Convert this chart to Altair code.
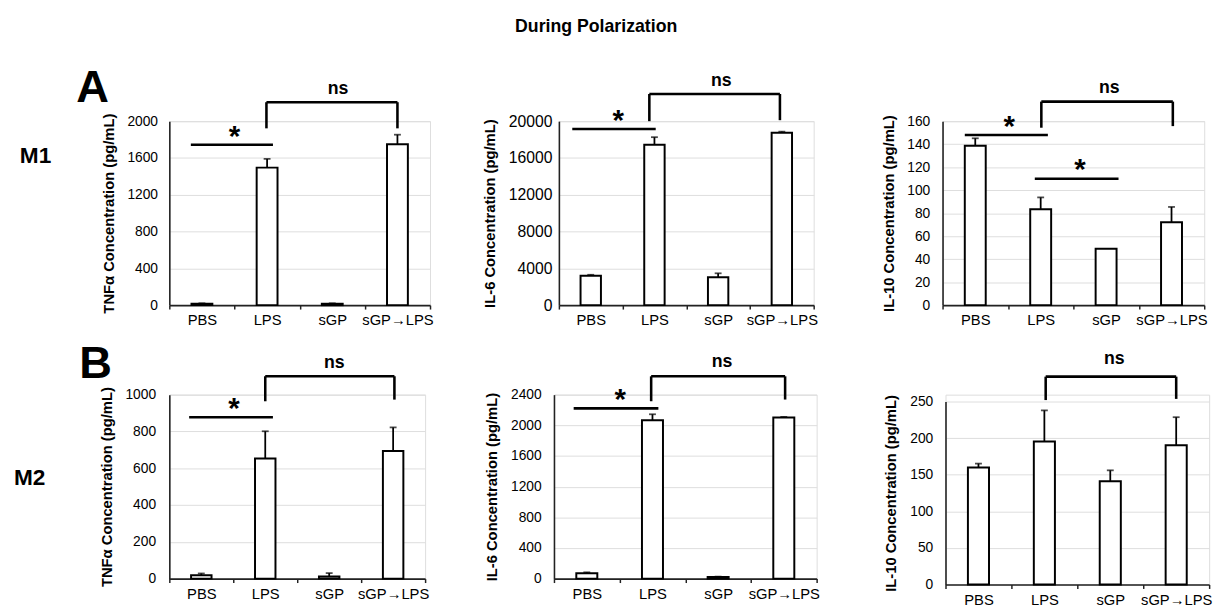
import altair as alt
import pandas as pd

categories = ["PBS", "LPS", "sGP", "sGP→LPS"]

# M1 row (A)
tnf_m1 = [15, 1495, 15, 1750]
tnf_m1_err = [5, 95, 5, 103]
il6_m1 = [3200, 17440, 3030, 18750]
il6_m1_err = [100, 820, 430, 110]
il10_m1 = [138.6, 83.4, 49.1, 72.0]
il10_m1_err = [6.5, 10.3, 0, 13.4]

# M2 row (B)
tnf_m2 = [18, 653, 12, 694]
tnf_m2_err = [10, 148, 18, 128]
il6_m2 = [70, 2067, 21, 2101]
il6_m2_err = [12, 77, 5, 9]
il10_m2 = [159.8, 195.5, 141.0, 190.2]
il10_m2_err = [5.4, 42.4, 15.0, 38.4]

# significance annotations (x in category units 0..4, y in data units)
sig_tnf_m1 = [(0.33, 1.59, 1744)]
star_tnf_m1 = [(1.0, 1893)]
brk_tnf_m1 = (1.49, 3.5, 2206, 1922, 1922)
ns_tnf_m1 = (2.59, 2349)

sig_il6_m1 = [(0.21, 1.52, 19146)]
star_il6_m1 = [(0.93, 20640)]
brk_il6_m1 = (1.42, 3.47, 22954, 20000, 20107)
ns_il6_m1 = (2.55, 24377)

sig_il10_m1 = [(0.34, 1.61, 148), (1.41, 2.69, 110)]
star_il10_m1 = [(1.02, 160), (2.10, 122.3)]
brk_il10_m1 = (1.51, 3.52, 177, 154.3, 155.7)
ns_il10_m1 = (2.55, 188.6)

sig_tnf_m2 = [(0.31, 1.62, 877)]
star_tnf_m2 = [(1.01, 952)]
brk_tnf_m2 = (1.50, 3.52, 1100, 964, 973)
ns_tnf_m2 = (2.58, 1174)

sig_il6_m2 = [(0.30, 1.59, 2221)]
star_il6_m2 = [(1.01, 2400)]
brk_il6_m2 = (1.48, 3.52, 2639, 2314, 2336)
ns_il6_m2 = (2.56, 2819)

sig_il10_m2 = []
star_il10_m2 = []
brk_il10_m2 = (1.52, 3.50, 284, 252, 253.6)
ns_il10_m2 = (2.56, 308)

FONT = "Liberation Sans"


def panel(vals, errs, ymax, ystep, ytitle, width, height, sig, stars, brk, ns,
          labels=None, top_pad=0, ylab_size=14, ylab_pad=12):
    df = pd.DataFrame({"cat": categories, "val": vals, "err": errs})
    df["top"] = df["val"] + df["err"]
    if top_pad:
        yscale = alt.Scale(domain=[0, ymax], nice=False, zero=True,
                           range=[height, top_pad])
    else:
        yscale = alt.Scale(domain=[0, ymax], nice=False, zero=True)
    ticks = list(range(0, int(ymax) + 1, ystep))
    yaxis = alt.Axis(title=ytitle, values=ticks, format="d", ticks=False,
                     labelPadding=ylab_pad, labelFontSize=ylab_size, domainWidth=1.6,
                     domainColor="#222222", titlePadding=11, titleFont=FONT,
                     titleFontSize=15, titleFontWeight="bold", titleColor="black")
    xband = alt.X(
        "cat:N", sort=categories,
        scale=alt.Scale(domain=categories, paddingInner=0, paddingOuter=0),
        axis=alt.Axis(title=None, tickBand="extent", labelAngle=0, tickSize=4,
                      labelPadding=4, labelFontSize=15, domainWidth=1.6,
                      domainColor="#222222", tickColor="#222222", tickWidth=1.5),
    )
    base = alt.Chart(df)
    bars = base.mark_bar(fill="white", stroke="black", strokeWidth=2,
                         width=alt.RelativeBandSize(0.32)).encode(
        x=xband, y=alt.Y("val:Q", scale=yscale, axis=yaxis))
    err_rule = base.transform_filter("datum.err > 0").mark_rule(
        color="black", strokeWidth=1.8).encode(
        x=xband, y=alt.Y("val:Q", scale=yscale, axis=yaxis), y2="top:Q")
    caps = base.transform_filter("datum.err > 0").mark_tick(
        color="black", thickness=1.8, size=7).encode(
        x=xband, y=alt.Y("top:Q", scale=yscale, axis=yaxis))
    data_layer = alt.layer(bars, err_rule, caps)

    segs = []
    for (x1, x2, y) in sig:
        segs.append({"x": x1, "x2": x2, "y": y, "y2": y})
    xl, xr, yt, ylb, yrb = brk
    segs.append({"x": xl, "x2": xl, "y": ylb, "y2": yt})
    segs.append({"x": xl, "x2": xr, "y": yt, "y2": yt})
    segs.append({"x": xr, "x2": xr, "y": yrb, "y2": yt})
    seg_df = pd.DataFrame(segs)
    xq = alt.X("x:Q", scale=alt.Scale(domain=[0, 4], nice=False, zero=False), axis=None)
    seg_layer = alt.Chart(seg_df).mark_rule(color="black", strokeWidth=2.6).encode(
        x=xq, x2="x2:Q", y=alt.Y("y:Q", scale=yscale, axis=yaxis), y2="y2:Q")

    txt = [{"x": sx, "y": sy, "t": "*"} for (sx, sy) in stars]
    txt_df = pd.DataFrame(txt if txt else [{"x": 0, "y": 0, "t": ""}])
    star_layer = alt.Chart(txt_df).mark_text(
        font=FONT, fontWeight="bold", fontSize=30, baseline="middle", dy=6,
        color="black").encode(x=xq, y=alt.Y("y:Q", scale=yscale, axis=yaxis), text="t:N")
    ns_df = pd.DataFrame([{"x": ns[0], "y": ns[1], "t": "ns"}])
    ns_layer = alt.Chart(ns_df).mark_text(
        font=FONT, fontWeight="bold", fontSize=18, baseline="middle",
        color="black").encode(x=xq, y=alt.Y("y:Q", scale=yscale, axis=yaxis), text="t:N")

    ann_layers = [seg_layer, star_layer, ns_layer]
    if labels:
        for (t, px, py, fs) in labels:
            ldf = pd.DataFrame({"t": [t]})
            ann_layers.append(alt.Chart(ldf).mark_text(
                font=FONT, fontWeight="bold", fontSize=fs, baseline="middle",
                align="center", color="black").encode(
                x=alt.value(px), y=alt.value(py), text="t:N"))
    ann = alt.layer(*ann_layers)
    return alt.layer(data_layer, ann).resolve_scale(x="independent").properties(
        width=width, height=height)


pA1 = panel(tnf_m1, tnf_m1_err, 2000, 400, "TNFα Concentration (pg/mL)", 265, 187,
            sig_tnf_m1, star_tnf_m1, brk_tnf_m1, ns_tnf_m1,
            labels=[("A", -78, -33, 46), ("M1", -136, 36, 23)])
pA2 = panel(il6_m1, il6_m1_err, 20000, 4000, "IL-6 Concentration (pg/mL)", 259, 187,
            sig_il6_m1, star_il6_m1, brk_il6_m1, ns_il6_m1, ylab_size=16, ylab_pad=7)
pA3 = panel(il10_m1, il10_m1_err, 160, 20, "IL-10 Concentration (pg/mL)", 266, 187,
            sig_il10_m1, star_il10_m1, brk_il10_m1, ns_il10_m1, ylab_pad=13)

pB1 = panel(tnf_m2, tnf_m2_err, 1000, 200, "TNFα Concentration (pg/mL)", 260, 187,
            sig_tnf_m2, star_tnf_m2, brk_tnf_m2, ns_tnf_m2,
            labels=[("B", -75, -31, 46), ("M2", -142, 85, 23)], ylab_pad=14)
pB2 = panel(il6_m2, il6_m2_err, 2400, 400, "IL-6 Concentration (pg/mL)", 267, 187,
            sig_il6_m2, star_il6_m2, brk_il6_m2, ns_il6_m2, ylab_pad=13)
pB3 = panel(il10_m2, il10_m2_err, 250, 50, "IL-10 Concentration (pg/mL)", 268, 193,
            sig_il10_m2, star_il10_m2, brk_il10_m2, ns_il10_m2, top_pad=7, ylab_pad=13)

rowA = alt.hconcat(pA1, pA2, pA3, spacing=131, bounds="flush")
rowB = alt.hconcat(pB1, pB2, pB3, spacing=131, bounds="flush")

chart = alt.vconcat(rowA, rowB, spacing=12).properties(
    title=alt.TitleParams("During Polarization", font=FONT, fontWeight="bold",
                          fontSize=18, anchor="middle", offset=30, dx=-17, color="black"),
).configure_view(stroke=None).configure_axis(
    labelFont=FONT, labelFontWeight="bold", labelColor="black",
    domainColor="#222222", tickColor="#222222", grid=False,
).configure(background="white")

chart.save("out.html", embed_options={"renderer": "svg", "actions": False})
